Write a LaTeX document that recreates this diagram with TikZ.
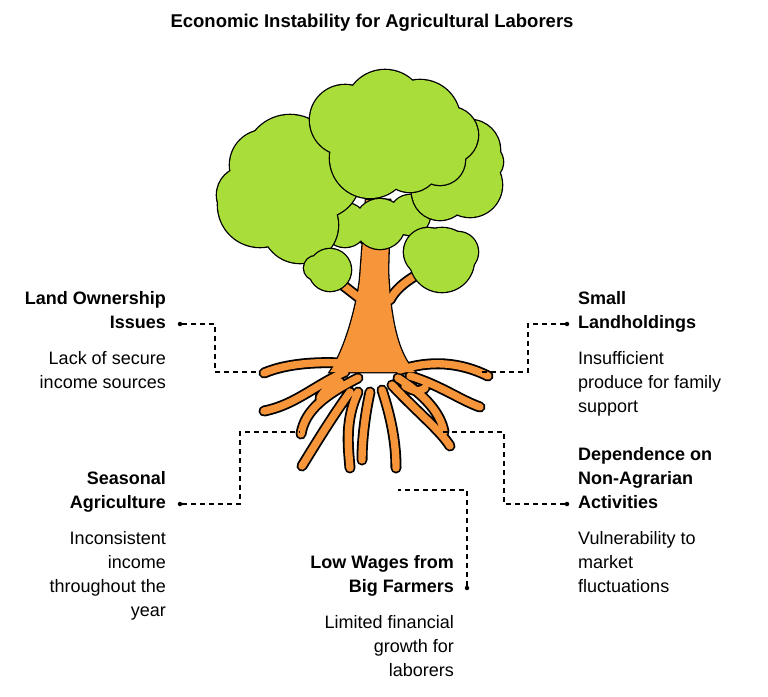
\documentclass[tikz,border=0pt]{standalone}
\usepackage{fontspec}
\setmainfont{Liberation Sans}
\definecolor{leafgreen}{HTML}{A8DD3A}
\definecolor{barkorange}{HTML}{F7953A}
\tikzset{
  head/.style={font=\fontsize{18}{24}\selectfont\bfseries, inner sep=0pt},
  desc/.style={font=\fontsize{18}{24}\selectfont, inner sep=0pt},
  link/.style={dashed, dash pattern=on 5pt off 4pt, line width=1.1pt},
  tip/.style={circle, fill=black, inner sep=0pt, minimum size=4.5pt},
}
% one cloud of leaves: outline of the union, then fill
\newcommand{\leafcloud}[1]{%
  \foreach \cx/\cy/\r in {#1} \draw[line width=2.6pt] (\cx,\cy) circle (\r);
  \foreach \cx/\cy/\r in {#1} \fill[leafgreen] (\cx,\cy) circle (\r);
}
\begin{document}
\begin{tikzpicture}[x=1pt,y=-1pt]
\useasboundingbox (0,0) rectangle (768,696);

\node[head, font=\fontsize{18.5}{22}\selectfont\bfseries] (title) at (372,23) {Economic Instability for Agricultural Laborers};

% roots and branches
\def\rootpaths{
  (372,366) .. controls (330,360) and (290,362) .. (264,373)
  (345,372) .. controls (315,385) and (295,405) .. (264,411)
  (340,382) .. controls (330,386) and (324,390) .. (320,398)
  (358,378) .. controls (325,395) and (305,410) .. (301,434)
  (350,392) .. controls (330,420) and (315,445) .. (302,466)
  (358,392) .. controls (345,420) and (348,445) .. (350,468)
  (370,392) .. controls (365,415) and (362,440) .. (362,460)
  (382,390) .. controls (392,420) and (396,445) .. (396,468)
  (392,385) .. controls (415,410) and (440,430) .. (450,446)
  (398,378) .. controls (420,392) and (440,410) .. (444,432)
  (400,370) .. controls (430,360) and (460,362) .. (488,376)
  (410,376) .. controls (440,385) and (460,400) .. (480,407)
  (405,386) .. controls (415,392) and (420,392) .. (425,388)
  (362,300) -- (340,283)
  (390,300) .. controls (395,290) and (405,282) .. (415,276)
  (366,240) -- (325,218)
  (368,236) -- (352,212)
}
\def\trunkpath{(330,372) .. controls (345,350) and (356,310) .. (360,280)
  -- (366,200) -- (390,200) -- (388,270) .. controls (390,320) and (398,355) .. (415,372) -- cycle}
\draw[line width=11pt, line cap=round] \rootpaths;
\draw[line width=2.6pt, fill=barkorange] \trunkpath;
\draw[line width=7.4pt, line cap=round, barkorange] \rootpaths;
\fill[barkorange] \trunkpath;

% leaves
\leafcloud{345/225/22, 380/224/25, 410/215/20}
\leafcloud{450/160/40, 470/150/30, 470/185/32, 440/192/28, 485/162/18}
\leafcloud{260/205/42, 290/160/45, 320/178/40, 265/165/35, 300/225/38, 245/195/28}
\leafcloud{345/120/35, 385/110/40, 420/120/40, 450/135/28, 370/158/40, 410/162/30, 440/160/25}
\leafcloud{330/270/21, 316/268/12}
\leafcloud{442/260/32, 428/252/24, 458/252/20}

% labels
\node[head, anchor=north east, align=right] (land) at (166,291) {Land Ownership\\Issues};
\node[desc, anchor=north east, align=right] (landd) at (166,351) {Lack of secure\\income sources};
\node[head, anchor=north west, align=left] (small) at (578,291) {Small\\Landholdings};
\node[desc, anchor=north west, align=left] (smalld) at (578,351) {Insufficient\\produce for family\\support};
\node[head, anchor=north east, align=right] (season) at (166,471) {Seasonal\\Agriculture};
\node[desc, anchor=north east, align=right] (seasond) at (166,531) {Inconsistent\\income\\throughout the\\year};
\node[head, anchor=north west, align=left] (depend) at (578,447) {Dependence on\\Non-Agrarian\\Activities};
\node[desc, anchor=north west, align=left] (dependd) at (578,531) {Vulnerability to\\market\\fluctuations};
\node[head, anchor=north east, align=right] (wages) at (454,555) {Low Wages from\\Big Farmers};
\node[desc, anchor=north east, align=right] (wagesd) at (454,615) {Limited financial\\growth for\\laborers};

% connectors
\node[tip] (t1) at (180,324) {};
\node[tip] (t2) at (567,324) {};
\node[tip] (t3) at (180,504) {};
\node[tip] (t4) at (567,504) {};
\node[tip] (t5) at (467,588) {};
\coordinate (r1) at (260,372);
\coordinate (r2) at (482,372);
\coordinate (r3) at (300,432);
\coordinate (r4) at (442,432);
\coordinate (r5) at (398,490);
\draw[link] (t1) -- (215,324) |- (r1);
\draw[link] (t2) -- (528,324) |- (r2);
\draw[link] (t3) -- (240,504) |- (r3);
\draw[link] (t4) -- (504,504) |- (r4);
\draw[link] (t5) |- (r5);
\end{tikzpicture}
\end{document}
